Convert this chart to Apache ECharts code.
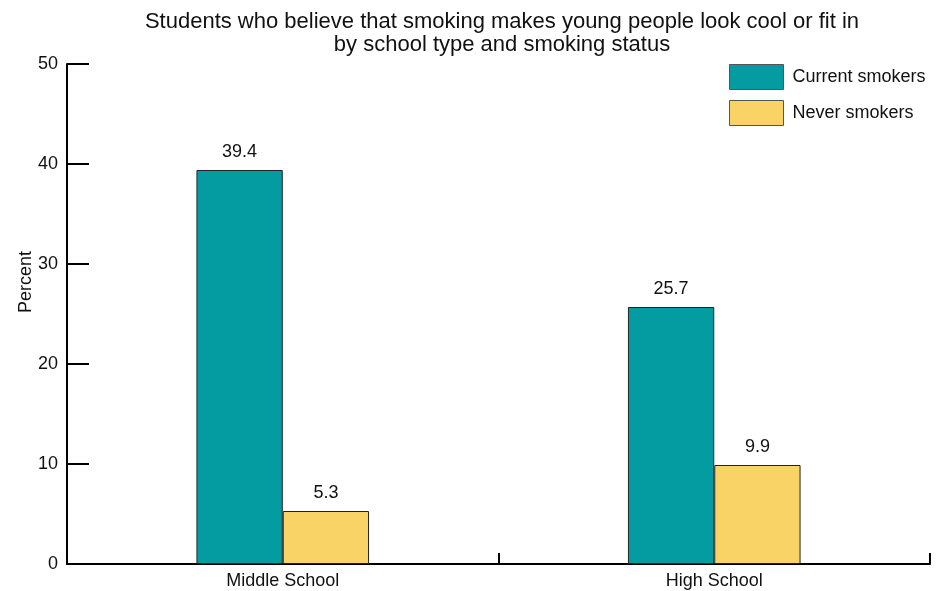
<!DOCTYPE html>
<html>
<head>
<meta charset="utf-8">
<script src="https://cdn.jsdelivr.net/npm/echarts@6/dist/echarts.min.js"></script>
<style>html,body{margin:0;padding:0;background:#fff;}#c{width:938px;height:591px;}</style>
</head>
<body>
<div id="c"></div>
<script>
const categories = ['Middle School', 'High School'];
const currentSmokers = [39.4, 25.7];
const neverSmokers = [5.3, 9.9];
const seriesNames = ['Current smokers', 'Never smokers'];

const FONT = '"Liberation Sans", Arial, sans-serif';
const chart = echarts.init(document.getElementById('c'));
const labelCfg = {show: true, position: 'top', distance: 9, color: '#111', fontSize: 18, fontFamily: FONT, formatter: p => p.value.toFixed(1)};
chart.setOption({
  animation: false,
  title: {
    text: 'Students who believe that smoking makes young people look cool or fit in\nby school type and smoking status',
    left: 502, top: 10, textAlign: 'center', padding: 0,
    textStyle: {fontSize: 22, fontWeight: 'normal', color: '#111', fontFamily: FONT, lineHeight: 23}
  },
  legend: {
    orient: 'vertical', left: 729, top: 64, padding: 0, itemWidth: 54, itemHeight: 25, itemGap: 10,
    icon: 'rect',
    itemStyle: {borderColor: '#555', borderWidth: 1},
    textStyle: {fontSize: 18, color: '#111', fontFamily: FONT, padding: [0,0,0,4]},
    data: seriesNames
  },
  grid: {left: 67, right: 8, top: 64, bottom: 27, containLabel: false},
  xAxis: {
    type: 'category', data: categories,
    axisLine: {lineStyle: {color: '#000', width: 2}},
    axisTick: {show: true, interval: 0, inside: true, length: 11, lineStyle: {color: '#000', width: 2}},
    axisLabel: {fontSize: 18, color: '#111', fontFamily: FONT, margin: 8}
  },
  yAxis: {
    type: 'value', min: 0, max: 50, interval: 10,
    name: 'Percent', nameLocation: 'middle', nameGap: 32, nameMoveOverlap: false,
    nameTextStyle: {fontSize: 18, color: '#111', fontFamily: FONT, padding: [0, 0, 0, 64]},
    axisLine: {show: true, lineStyle: {color: '#000', width: 2}},
    axisTick: {show: true, inside: true, length: 22, lineStyle: {color: '#000', width: 2}},
    axisLabel: {fontSize: 18, color: '#111', fontFamily: FONT, margin: 9},
    splitLine: {show: false}
  },
  series: [
    {name: seriesNames[0], type: 'bar', data: currentSmokers, barWidth: '20%', barGap: '0%',
     itemStyle: {color: '#049BA1', borderColor: '#222', borderWidth: 1}, label: labelCfg},
    {name: seriesNames[1], type: 'bar', data: neverSmokers, barWidth: '20%', barGap: '0%',
     itemStyle: {color: '#F9D366', borderColor: '#222', borderWidth: 1}, label: labelCfg}
  ]
});
</script>
</body>
</html>
